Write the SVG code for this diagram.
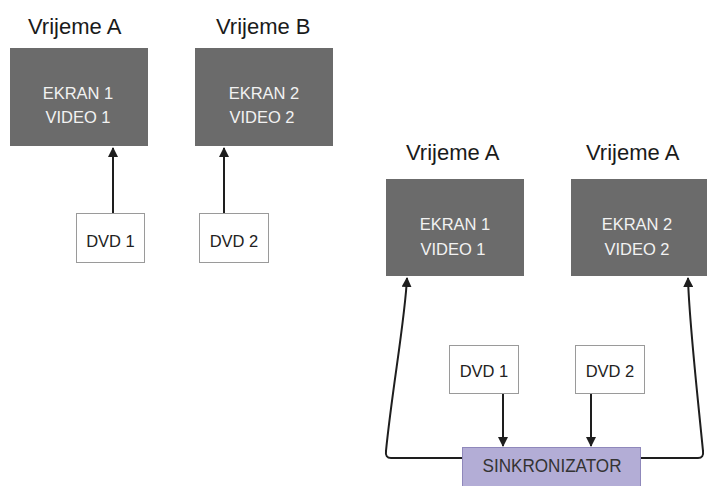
<svg xmlns="http://www.w3.org/2000/svg" width="707" height="486" viewBox="0 0 707 486">
<style>
.title{font-family:"Liberation Sans",Arial,sans-serif;font-size:22px;fill:#1a1a1a}
.screen{fill:#6b6b6b}
.st{font-family:"Liberation Sans",Arial,sans-serif;font-size:16.5px;fill:#f2f2f2;text-anchor:middle}
.dvd{fill:#fff;stroke:#9a9a9a;stroke-width:1}
.dt{font-family:"Liberation Sans",Arial,sans-serif;font-size:16.5px;fill:#222;text-anchor:middle}
.sync{fill:#b3add6;stroke:#8f88bb;stroke-width:1}
.syt{font-family:"Liberation Sans",Arial,sans-serif;font-size:18px;fill:#333;text-anchor:middle}
.conn{fill:none;stroke:#1e1e1e;stroke-width:2}
</style>
<defs>
<marker id="ah" viewBox="0 0 10 10" refX="9" refY="5" markerWidth="5" markerHeight="5" orient="auto" markerUnits="strokeWidth">
<path d="M0,0 L10,5 L0,10 z" fill="#1e1e1e"/>
</marker>
</defs>
<text class="title" x="28" y="34">Vrijeme A</text>
<text class="title" x="216" y="34">Vrijeme B</text>
<text class="title" x="406" y="160">Vrijeme A</text>
<text class="title" x="586" y="160">Vrijeme A</text>
<g id="screen1a">
<rect class="screen" x="10" y="48" width="138" height="98"/>
<text class="st" x="78" y="99">EKRAN 1</text>
<text class="st" x="78" y="123">VIDEO 1</text>
</g>
<g id="screen2b">
<rect class="screen" x="195" y="48" width="138" height="98"/>
<text class="st" x="264" y="99">EKRAN 2</text>
<text class="st" x="262" y="123">VIDEO 2</text>
</g>
<g id="dvd1a">
<rect class="dvd" x="76.5" y="213.5" width="68" height="49"/>
<text class="dt" x="110.5" y="247">DVD 1</text>
</g>
<g id="dvd2b">
<rect class="dvd" x="199.5" y="213.5" width="69" height="49"/>
<text class="dt" x="234" y="247">DVD 2</text>
</g>
<g id="screen1">
<rect class="screen" x="386" y="179" width="138" height="97"/>
<text class="st" x="455" y="230">EKRAN 1</text>
<text class="st" x="453" y="255">VIDEO 1</text>
</g>
<g id="screen2">
<rect class="screen" x="571" y="179" width="137" height="97"/>
<text class="st" x="637" y="230">EKRAN 2</text>
<text class="st" x="637" y="255">VIDEO 2</text>
</g>
<g id="dvd1">
<rect class="dvd" x="449.5" y="345.5" width="69" height="48"/>
<text class="dt" x="484" y="377">DVD 1</text>
</g>
<g id="dvd2">
<rect class="dvd" x="575.5" y="345.5" width="69" height="48"/>
<text class="dt" x="610" y="377">DVD 2</text>
</g>
<g id="sinkronizator">
<rect class="sync" x="462.5" y="447.5" width="178" height="42"/>
<text class="syt" x="552" y="472" textLength="139" lengthAdjust="spacingAndGlyphs">SINKRONIZATOR</text>
</g>
<g id="connectors">
<line class="conn" x1="113" y1="213" x2="113" y2="148" marker-end="url(#ah)"/>
<line class="conn" x1="224" y1="213" x2="224" y2="148" marker-end="url(#ah)"/>
<line class="conn" x1="503" y1="394" x2="503" y2="446" marker-end="url(#ah)"/>
<line class="conn" x1="591" y1="394" x2="591" y2="446" marker-end="url(#ah)"/>
<path class="conn" d="M462,458 L391,458 Q385,458 386,451 C392,390 405,320 407,278" marker-end="url(#ah)"/>
<path class="conn" d="M641,458 L698,458 Q704,458 703,451 C697,390 689,320 688,278" marker-end="url(#ah)"/>
</g>
</svg>
